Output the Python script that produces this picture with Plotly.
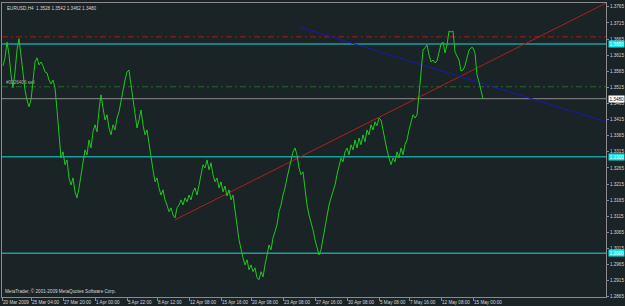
import plotly.graph_objects as go

# ---- data (H4 bar index, close price) ----
bars = [2, 3, 4, 5, 6, 7, 8, 9, 10, 11, 12, 13, 14, 15, 16, 17, 18, 19, 20, 21,
        22, 23, 24, 25, 26, 27, 28, 29, 30, 31, 32, 33, 34, 35, 36, 37, 38, 39, 40, 41,
        42, 43, 44, 45, 46, 47, 48, 49, 50, 51, 52, 53, 54, 55, 56, 57, 58, 59, 60, 61,
        62, 63, 64, 65, 66, 67, 68, 69, 70, 71, 72, 73, 74, 75, 76, 77, 78, 79, 80, 81,
        82, 83, 84, 85, 86, 87, 88, 89, 90, 91, 92, 93, 94, 95, 96, 97, 98, 99, 100, 101,
        102, 103, 104, 105, 106, 107, 108, 109, 110, 111, 112, 113, 114, 115, 116, 117, 118, 119, 120, 121,
        122, 123, 124, 125, 126, 127, 128, 129, 130, 131, 132, 133, 134, 135, 136, 137, 138, 139, 140, 141,
        142, 143, 144, 145, 146, 147, 148, 149, 150, 151, 152, 153, 154, 155, 156, 157, 158, 159, 160, 161,
        162, 163, 164, 165, 166, 167, 168, 169, 170, 171, 172, 173, 174, 175, 176, 177, 178, 179, 180, 181,
        182, 183, 184, 185, 186, 187, 188, 189, 190, 191, 192, 193, 194, 195, 196, 197, 198, 199, 200, 201,
        202, 203, 204, 205, 206, 207, 208, 209, 210, 211, 212, 213, 214, 215, 216, 217, 218, 219, 220, 221,
        222, 223, 224, 225, 226, 227, 228, 229, 230, 231, 232, 233, 234, 235, 236, 237, 238, 239, 240, 241, 242]
close = [1.3582, 1.3607, 1.3656, 1.3616, 1.3554, 1.3514, 1.3563, 1.3631, 1.3666, 1.3616,
         1.3554, 1.3507, 1.3476, 1.3455, 1.3476, 1.3538, 1.3594, 1.3607, 1.3585, 1.3594,
         1.3582, 1.3563, 1.3560, 1.3538, 1.3526, 1.3538, 1.3514, 1.3445, 1.3368, 1.3296,
         1.3315, 1.3275, 1.3290, 1.3234, 1.3212, 1.3234, 1.3191, 1.3172, 1.3203, 1.3244,
         1.3275, 1.3321, 1.3306, 1.3352, 1.3327, 1.3377, 1.3399, 1.3377, 1.3445, 1.3492,
         1.3451, 1.3414, 1.3430, 1.3389, 1.3368, 1.3399, 1.3383, 1.3420, 1.3439, 1.3476,
         1.3507, 1.3538, 1.3563, 1.3569, 1.3523, 1.3476, 1.3420, 1.3389, 1.3414, 1.3445,
         1.3399, 1.3368, 1.3383, 1.3337, 1.3296, 1.3259, 1.3222, 1.3234, 1.3203, 1.3181,
         1.3197, 1.3166, 1.3150, 1.3129, 1.3141, 1.3119, 1.3110, 1.3141, 1.3150, 1.3166,
         1.3150, 1.3172, 1.3160, 1.3181, 1.3166, 1.3191, 1.3203, 1.3181, 1.3212, 1.3244,
         1.3275, 1.3265, 1.3290, 1.3259, 1.3281, 1.3244, 1.3222, 1.3234, 1.3203, 1.3222,
         1.3191, 1.3209, 1.3178, 1.3197, 1.3166, 1.3181, 1.3141, 1.3088, 1.3042, 1.3011,
         1.2986, 1.2964, 1.2980, 1.2949, 1.2964, 1.2943, 1.2955, 1.2924, 1.2918, 1.2943,
         1.2927, 1.2964, 1.2995, 1.3026, 1.3011, 1.3048, 1.3067, 1.3088, 1.3129, 1.3150,
         1.3181, 1.3203, 1.3234, 1.3259, 1.3290, 1.3315, 1.3327, 1.3306, 1.3265, 1.3244,
         1.3253, 1.3197, 1.3150, 1.3119, 1.3098, 1.3073, 1.3042, 1.3017, 1.2995, 1.3011,
         1.3048, 1.3088, 1.3119, 1.3150, 1.3172, 1.3191, 1.3212, 1.3244, 1.3275, 1.3296,
         1.3284, 1.3315, 1.3327, 1.3306, 1.3337, 1.3321, 1.3352, 1.3327, 1.3358, 1.3337,
         1.3368, 1.3346, 1.3383, 1.3368, 1.3399, 1.3383, 1.3408, 1.3396, 1.3420, 1.3414,
         1.3383, 1.3346, 1.3321, 1.3296, 1.3275, 1.3296, 1.3284, 1.3315, 1.3296, 1.3327,
         1.3306, 1.3337, 1.3352, 1.3383, 1.3408, 1.3430, 1.3420, 1.3430, 1.3492, 1.3576,
         1.3631, 1.3638, 1.3647, 1.3616, 1.3594, 1.3600, 1.3591, 1.3597, 1.3625, 1.3650,
         1.3656, 1.3622, 1.3647, 1.3690, 1.3687, 1.3690, 1.3625, 1.3610, 1.3600, 1.3566,
         1.3569, 1.3582, 1.3607, 1.3631, 1.3638, 1.3638, 1.3622, 1.3554, 1.3532, 1.3507, 1.3480]

time_tick_bars = [1.5, 16, 32, 48, 64, 79, 95, 111, 126, 142, 158, 174, 190, 205, 221, 237]
time_tick_text = ["20 Mar 2009", "25 Mar 04:00", "27 Mar 20:00", "1 Apr 00:00", "5 Apr 22:00",
                  "8 Apr 12:00", "12 Apr 08:00", "15 Apr 16:00", "20 Apr 08:00", "23 Apr 08:00",
                  "27 Apr 16:00", "30 Apr 08:00", "5 May 08:00", "7 May 16:00", "12 May 08:00",
                  "15 May 00:00"]
price_ticks = [1.2865, 1.2915, 1.2965, 1.3015, 1.3065, 1.3115, 1.3165, 1.3215, 1.3265, 1.3315,
               1.3365, 1.3415, 1.3465, 1.3515, 1.3565, 1.3615, 1.3665, 1.3715, 1.3765]

# horizontal lines: price, colour, dash, width, label bg (None = no label)
hlines_price = [1.3672, 1.3650, 1.3517, 1.3480, 1.3300, 1.3000]
hlines_color = ["#a01c1c", "#1c9d9d", "#1f6e24", "#8c8c8c", "#1c9d9d", "#1c9d9d"]
hlines_dash = ["6px,3px,2px,3px", "solid", "6px,3px,2px,3px", "solid", "solid", "solid"]
hlines_width = [1, 1.5, 1, 1, 1.5, 1.5]
hlines_label_bg = [None, "#12e6e6", None, "#ffffff", "#12e6e6", "#12e6e6"]
hlines_label_fg = [None, "#ffffff", None, "#000000", "#ffffff", "#ffffff"]

red_bars = [88, 310]
red_prices = [1.3104, 1.3797]
blue_bars = [150, 310]
blue_prices = [1.3703, 1.3396]

title_text = "EURUSD,H4  1.3528 1.3542 1.3462 1.3480"
order_text = "#0026406 sell"
copyright_text = "MetaTrader, © 2001-2009 MetaQuotes Software Corp."

BG = "#1a2426"
AXIS = "#8a8a8a"
TXT = "#d6d6d6"
FONT = "Liberation Sans"
FS = 4.6

fig = go.Figure()

shapes = []
annotations = []
for p, c, d, w, lb, lf in zip(hlines_price, hlines_color, hlines_dash, hlines_width,
                              hlines_label_bg, hlines_label_fg):
    shapes.append(dict(type="line", xref="paper", x0=0, x1=1, yref="y", y0=p, y1=p,
                       line=dict(color=c, width=w, dash=d), layer="below"))
    if lb:
        annotations.append(dict(xref="paper", x=1, xanchor="left", xshift=2, yref="y", y=p,
                                yanchor="middle", text=f"{p:.4f}", showarrow=False,
                                bgcolor=lb, borderpad=0.5,
                                font=dict(family=FONT, size=FS, color=lf)))

fig.add_trace(go.Scatter(x=red_bars, y=red_prices, mode="lines",
                         line=dict(color="#b01e1e", width=1), hoverinfo="skip"))
fig.add_trace(go.Scatter(x=blue_bars, y=blue_prices, mode="lines",
                         line=dict(color="#1818b4", width=1), hoverinfo="skip"))
fig.add_trace(go.Scatter(x=bars, y=close, mode="lines",
                         line=dict(color="#1ec81e", width=1)))

annotations.append(dict(xref="paper", x=0, xanchor="left", xshift=3, yref="paper", y=1,
                        yanchor="top", yshift=-1, text=title_text, showarrow=False,
                        font=dict(family=FONT, size=FS, color=TXT)))
annotations.append(dict(xref="x", x=bars[0], xanchor="left", xshift=1, yref="y",
                        y=hlines_price[2], yanchor="bottom", yshift=0, text=order_text,
                        showarrow=False, font=dict(family=FONT, size=FS, color="#a8a8a8")))
annotations.append(dict(xref="paper", x=0, xanchor="left", xshift=1, yref="paper", y=0,
                        yanchor="bottom", yshift=1, text=copyright_text, showarrow=False,
                        font=dict(family=FONT, size=FS, color=TXT)))

fig.update_layout(
    width=625, height=306,
    margin=dict(l=2, r=19, t=3, b=9, autoexpand=False),
    paper_bgcolor=BG, plot_bgcolor=BG,
    showlegend=False,
    shapes=shapes, annotations=annotations,
    xaxis=dict(range=[1.5, 303.5], tickvals=time_tick_bars, ticktext=time_tick_text,
               tickangle=0, automargin=False,
               ticks="outside", ticklen=3, tickcolor=AXIS, tickwidth=1,
               ticklabelposition="outside right",
               showline=True, linecolor=AXIS, linewidth=1, mirror=True,
               showgrid=False, zeroline=False,
               tickfont=dict(family=FONT, size=FS, color=TXT)),
    yaxis=dict(range=[1.28645, 1.3777], side="right", tickvals=price_ticks,
               tickformat=".4f", ticks="outside", ticklen=2, tickcolor=AXIS, tickwidth=1,
               automargin=False,
               showline=True, linecolor=AXIS, linewidth=1, mirror=True,
               showgrid=False, zeroline=False,
               tickfont=dict(family=FONT, size=FS, color=TXT)),
)

fig.write_html("out.html")
